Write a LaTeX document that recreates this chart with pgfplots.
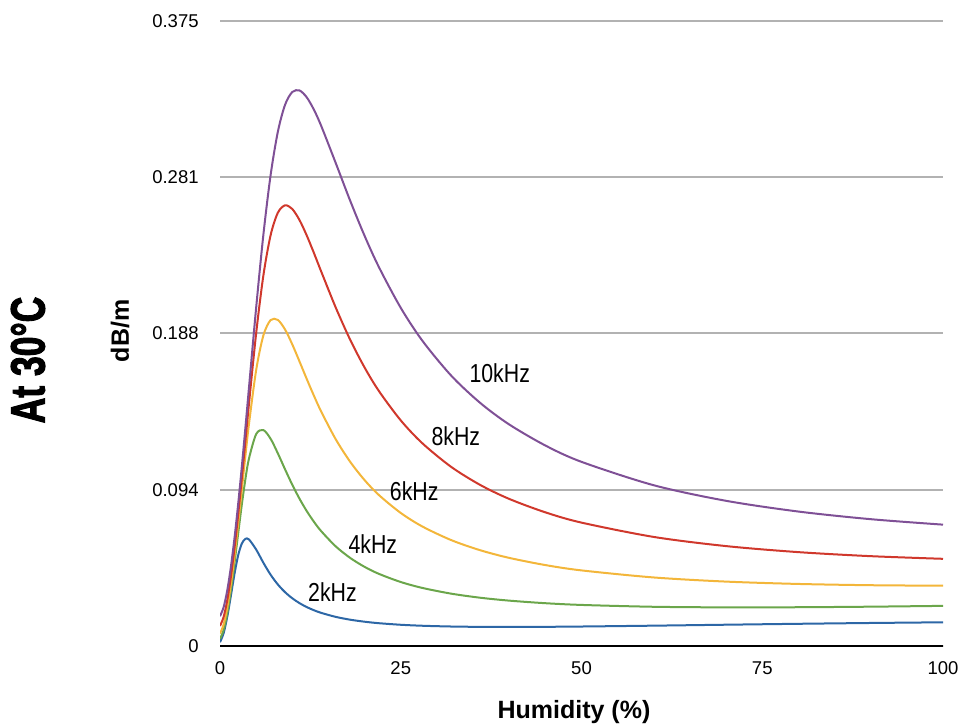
\documentclass[border=0pt]{standalone}
\usepackage{fontspec}
\setmainfont{Liberation Sans}
\newfontfamily\heavyfont{Liberation Sans}[BoldFeatures={FakeBold=2.5}]
\usepackage{graphicx}
\usepackage{pgfplots}
\pgfplotsset{compat=1.18}
\usepackage{pgfplotstable}

\definecolor{c2k}{RGB}{45,103,166}
\definecolor{c4k}{RGB}{107,166,75}
\definecolor{c6k}{RGB}{243,182,58}
\definecolor{c8k}{RGB}{208,56,44}
\definecolor{c10k}{RGB}{127,80,150}
\definecolor{gridgray}{RGB}{178,178,178}

\newcommand\curvelab[1]{\scalebox{0.82}[1]{\fontsize{13}{15}\selectfont #1}}

% attenuation in dB/m against relative humidity, 30 C
\pgfplotstableread{
rh    f2      f4      f6      f8      f10
0     0.00228 0.00423 0.00748 0.01203 0.01788
0.5   0.00765 0.00961 0.01287 0.01742 0.02327
1     0.01741 0.01958 0.02287 0.02744 0.03329
1.5   0.03003 0.03325 0.03675 0.04138 0.04727
2     0.04314 0.04952 0.05370 0.05858 0.06459
2.5   0.05415 0.06705 0.07284 0.07833 0.08462
3     0.06130 0.08427 0.09315 0.09985 0.10674
3.5   0.06428 0.09975 0.11355 0.12236 0.13030
4     0.06394 0.11235 0.13299 0.14502 0.15463
5     0.05788 0.12712 0.16550 0.18758 0.20293
6     0.04994 0.12956 0.18637 0.22232 0.24675
7     0.04276 0.12432 0.19555 0.24648 0.28252
8     0.03692 0.11560 0.19563 0.25995 0.30851
9     0.03228 0.10598 0.18987 0.26440 0.32475
10    0.02862 0.09673 0.18094 0.26219 0.33242
11    0.02570 0.08834 0.17068 0.25553 0.33331
12    0.02335 0.08094 0.16019 0.24629 0.32919
13    0.02144 0.07449 0.15008 0.23571 0.32168
14    0.01987 0.06889 0.14063 0.22467 0.31204
16    0.01748 0.05980 0.12409 0.20315 0.28986
18    0.01579 0.05287 0.11055 0.18380 0.26721
20    0.01457 0.04748 0.09952 0.16708 0.24608
22    0.01367 0.04324 0.09049 0.15284 0.22715
25    0.01274 0.03840 0.07983 0.13537 0.20291
28    0.01215 0.03483 0.07167 0.12159 0.18310
32    0.01169 0.03139 0.06350 0.10739 0.16212
36    0.01148 0.02896 0.05745 0.09661 0.14581
40    0.01143 0.02722 0.05287 0.08825 0.13292
45    0.01151 0.02568 0.04856 0.08020 0.12030
50    0.01169 0.02464 0.04536 0.07403 0.11049
60    0.01220 0.02353 0.04112 0.06543 0.09644
70    0.01277 0.02318 0.03864 0.05994 0.08711
80    0.01332 0.02326 0.03723 0.05632 0.08067
90    0.01381 0.02359 0.03647 0.05390 0.07609
100   0.01422 0.02408 0.03617 0.05231 0.07281
}\attn

\begin{document}
\begin{tikzpicture}
\useasboundingbox (-110pt,-40.5pt) rectangle (371pt,323pt);
\begin{axis}[
    at={(0,0)}, anchor=south west,
    scale only axis,
    width=361.5pt, height=312.5pt,
    xmin=0, xmax=100,
    ymin=0, ymax=0.375,
    xtick={0,25,50,75,100},
    ytick={0,0.09375,0.1875,0.28125,0.375},
    yticklabels={0,0.094,0.188,0.281,0.375},
    /pgf/number format/assume math mode=true,
    ticklabel style={font=\fontsize{9.25}{11}\selectfont},
    yticklabel style={anchor=east, inner sep=0pt, xshift=-10.5pt},
    xticklabel style={anchor=north, inner sep=0pt, yshift=-7.5pt},
    axis line style={draw=none},
    tick style={draw=none},
    ymajorgrids,
    grid style={line width=1pt, gridgray},
    xlabel={Humidity (\%)},
    xlabel style={font=\bfseries\fontsize{12.5}{15}\selectfont,
        at={(axis description cs:0.4896,0)}, anchor=base, yshift=-36.2pt},
    ylabel={dB/m},
    ylabel style={font=\bfseries\fontsize{12.5}{15}\selectfont,
        at={(axis description cs:-0.1383,0.504)}, anchor=center},
    every axis plot/.append style={line width=1pt, smooth, no markers},
]
\addplot[c2k] table[x=rh, y=f2] {\attn};
\addplot[c4k] table[x=rh, y=f4] {\attn};
\addplot[c6k] table[x=rh, y=f6] {\attn};
\addplot[c8k] table[x=rh, y=f8] {\attn};
\addplot[c10k] table[x=rh, y=f10] {\attn};

\draw[black, line width=1.2pt] (axis cs:0,0) -- (axis cs:100.3,0);

\node at (axis cs:38.69,0.1638) {\curvelab{10kHz}};
\node at (axis cs:32.62,0.1261) {\curvelab{8kHz}};
\node at (axis cs:26.86,0.0931) {\curvelab{6kHz}};
\node at (axis cs:21.14,0.0609) {\curvelab{4kHz}};
\node at (axis cs:15.56,0.0321) {\curvelab{2kHz}};
\end{axis}
\node[rotate=90, inner sep=0pt] at (-96pt,143pt)
    {\scalebox{0.74}[1]{\heavyfont\bfseries\fontsize{24}{28}\selectfont At 30°C}};
\end{tikzpicture}
\end{document}
